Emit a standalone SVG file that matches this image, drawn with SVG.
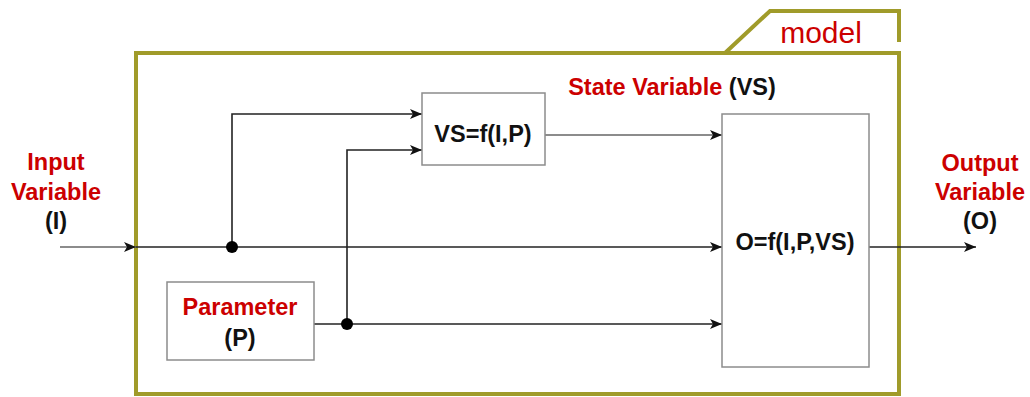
<svg xmlns="http://www.w3.org/2000/svg" width="1030" height="397" viewBox="0 0 1030 397">
<style>
.frame{fill:none;stroke:#a09b2a;stroke-width:4}
.box{fill:#fff;stroke:#8c8c8c;stroke-width:1.5}
.ln{fill:none;stroke:#222;stroke-width:1.6}
.lt{fill:none;stroke:#666;stroke-width:1.4}
.t{font-family:"Liberation Sans",Arial,sans-serif;font-weight:bold;font-size:23.5px;text-anchor:middle}
.red{fill:#cc0000}
.blk{fill:#111}
</style>
<defs>
<marker id="ah" viewBox="0 0 12 10" refX="12" refY="5" markerWidth="12" markerHeight="10" markerUnits="userSpaceOnUse" orient="auto">
<path d="M0,0 L12,5 L0,10 L3,5 Z" fill="#111"/>
</marker>
</defs>
<g id="model">
<rect class="frame" x="136" y="53" width="763" height="341"/>
<path class="frame" d="M725,53 L770,11 L899,11 L899,42"/>
<text x="821" y="43" font-family="Liberation Sans,Arial,sans-serif" font-size="30" fill="#cc0000" text-anchor="middle">model</text>
</g>
<g id="connectors">
<line class="lt" x1="60" y1="247" x2="136" y2="247" marker-end="url(#ah)"/>
<line class="ln" x1="136" y1="247" x2="722" y2="247" marker-end="url(#ah)"/>
<polyline class="ln" points="232,247 232,114 422,114" marker-end="url(#ah)"/>
<polyline class="ln" points="347,324 347,150 422,150" marker-end="url(#ah)"/>
<line class="ln" x1="314" y1="324" x2="722" y2="324" marker-end="url(#ah)"/>
<line class="lt" x1="545" y1="135" x2="722" y2="135" marker-end="url(#ah)"/>
<line class="ln" x1="869" y1="247" x2="976" y2="247" marker-end="url(#ah)"/>
<circle cx="232" cy="247" r="6" fill="#000"/>
<circle cx="347" cy="324" r="6" fill="#000"/>
</g>
<g id="input">
<text class="t red" x="56" y="170">Input</text>
<text class="t red" x="56" y="200">Variable</text>
<text class="t blk" x="56" y="229">(I)</text>
</g>
<g id="output">
<text class="t red" x="980" y="171">Output</text>
<text class="t red" x="980" y="200">Variable</text>
<text class="t blk" x="980" y="229">(O)</text>
</g>
<g id="state-label">
<text class="t" x="672" y="95"><tspan class="red">State Variable</tspan><tspan class="blk"> (VS)</tspan></text>
</g>
<g id="vs-box">
<rect class="box" x="422" y="93" width="123" height="72"/>
<text class="t blk" x="483" y="142">VS=f(I,P)</text>
</g>
<g id="param-box">
<rect class="box" x="167" y="282" width="147" height="78"/>
<text class="t red" x="240" y="315">Parameter</text>
<text class="t blk" x="240" y="346">(P)</text>
</g>
<g id="o-box">
<rect class="box" x="722" y="114" width="147" height="253"/>
<text class="t blk" x="795" y="250">O=f(I,P,VS)</text>
</g>
</svg>
